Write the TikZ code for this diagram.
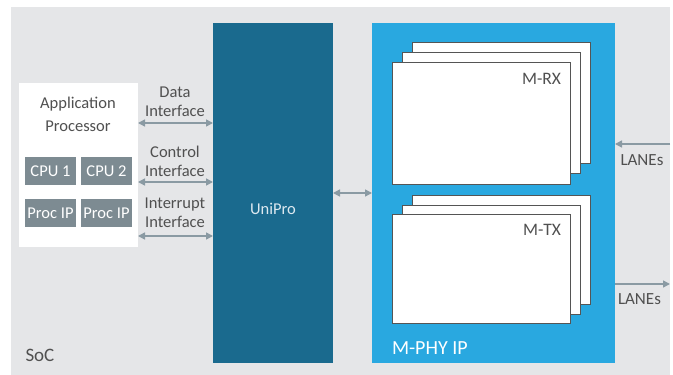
\documentclass[tikz,border=0pt]{standalone}
\usepackage{fontspec}
\setmainfont{Carlito}
\usetikzlibrary{arrows.meta}
\definecolor{bggrey}{HTML}{E5E6E8}
\definecolor{uniblue}{HTML}{1A6A8E}
\definecolor{phyblue}{HTML}{29A8E0}
\definecolor{cpugrey}{HTML}{7D8B92}
\definecolor{arrgrey}{HTML}{8A9AA3}
\definecolor{txtgrey}{HTML}{505050}
\definecolor{edgegrey}{HTML}{555555}
\definecolor{unitxt}{HTML}{DDE9F0}
\begin{document}
\begin{tikzpicture}[x=1pt,y=-1pt,
  blk/.style={draw=none, inner sep=0pt, outer sep=0pt, anchor=north west},
  chip/.style={blk, fill=cpugrey, minimum width=51pt, minimum height=28pt, text=white, font=\fontsize{16.5}{19}\selectfont},
  card/.style={blk, fill=white, draw=edgegrey, line width=1pt, minimum width=178pt},
  lbl/.style={inner sep=0pt, outer sep=0pt, text=txtgrey, font=\fontsize{16.5}{19}\selectfont},
  arr/.style={draw=arrgrey, line width=1.5pt, arrows={Triangle[length=7pt,width=7pt]-Triangle[length=7pt,width=7pt]}},
  arrr/.style={draw=arrgrey, line width=1.5pt, -{Triangle[length=7pt,width=7pt]}}]
\useasboundingbox (0,0) rectangle (673,375);
% SoC background
\node[blk, fill=bggrey, minimum width=659pt, minimum height=368pt] (soc) at (11,7) {};
\node[lbl, anchor=base west, font=\fontsize{19}{22}\selectfont] (soclbl) at (25.5,361.5) {SoC};
% Application processor
\node[blk, fill=white, minimum width=119pt, minimum height=164pt] (app) at (19,83) {};
\node[lbl, anchor=base, align=center, font=\fontsize{16.5}{23}\selectfont] (applbl) at (78,131.5) {Application\\Processor};
\node[chip] (cpu1) at (25,157) {CPU 1};
\node[chip] (cpu2) at (81,157) {CPU 2};
\node[chip] (pip1) at (25,199) {Proc IP};
\node[chip] (pip2) at (81,199) {Proc IP};
% UniPro
\node[blk, fill=uniblue, minimum width=120pt, minimum height=340pt] (unipro) at (213,23) {};
\node[lbl, text=unitxt, anchor=base] (unilbl) at (273,214) {UniPro};
% interfaces
\node[lbl, anchor=base, align=center] (datalbl) at (175,116) {Data\\Interface};
\node[lbl, anchor=base, align=center] (ctrllbl) at (175,176) {Control\\Interface};
\node[lbl, anchor=base, align=center] (intlbl) at (175,227) {Interrupt\\Interface};
\draw[arr] (app.east |- 0,123) -- (unipro.west |- 0,123);
\draw[arr] (app.east |- 0,182) -- (unipro.west |- 0,182);
\draw[arr] (app.east |- 0,236) -- (unipro.west |- 0,236);
% M-PHY
\node[blk, fill=phyblue, minimum width=243pt, minimum height=340pt] (mphy) at (372,23) {};
\node[lbl, text=white, anchor=base west, font=\fontsize{20}{24}\selectfont] (mphylbl) at (392,354) {M-PHY IP};
\draw[arr] (unipro.east |- 0,193) -- (mphy.west |- 0,193);
% M-RX stack
\node[card, minimum height=121pt] (rx3) at (412,42) {};
\node[card, minimum height=121pt] (rx2) at (402,52) {};
\node[card, minimum height=122pt] (rx1) at (392,62) {};
\node[lbl, anchor=base east, font=\fontsize{17.5}{21}\selectfont] (rxlbl) at (561,84) {M-RX};
% M-TX stack
\node[card, minimum height=109pt] (tx3) at (412,195) {};
\node[card, minimum height=109pt] (tx2) at (402,205) {};
\node[card, minimum height=109pt] (tx1) at (392,214) {};
\node[lbl, anchor=base east, font=\fontsize{17.5}{21}\selectfont] (txlbl) at (561,235.5) {M-TX};
% LANEs
\draw[arrr] (soc.east |- 0,144) -- (mphy.east |- 0,144);
\node[lbl, anchor=base west, font=\fontsize{17}{20}\selectfont] (lanein) at (620.5,165) {LANEs};
\draw[arrr] (mphy.east |- 0,284) -- (soc.east |- 0,284);
\node[lbl, anchor=base west, font=\fontsize{17}{20}\selectfont] (laneout) at (618,304) {LANEs};
\end{tikzpicture}
\end{document}
